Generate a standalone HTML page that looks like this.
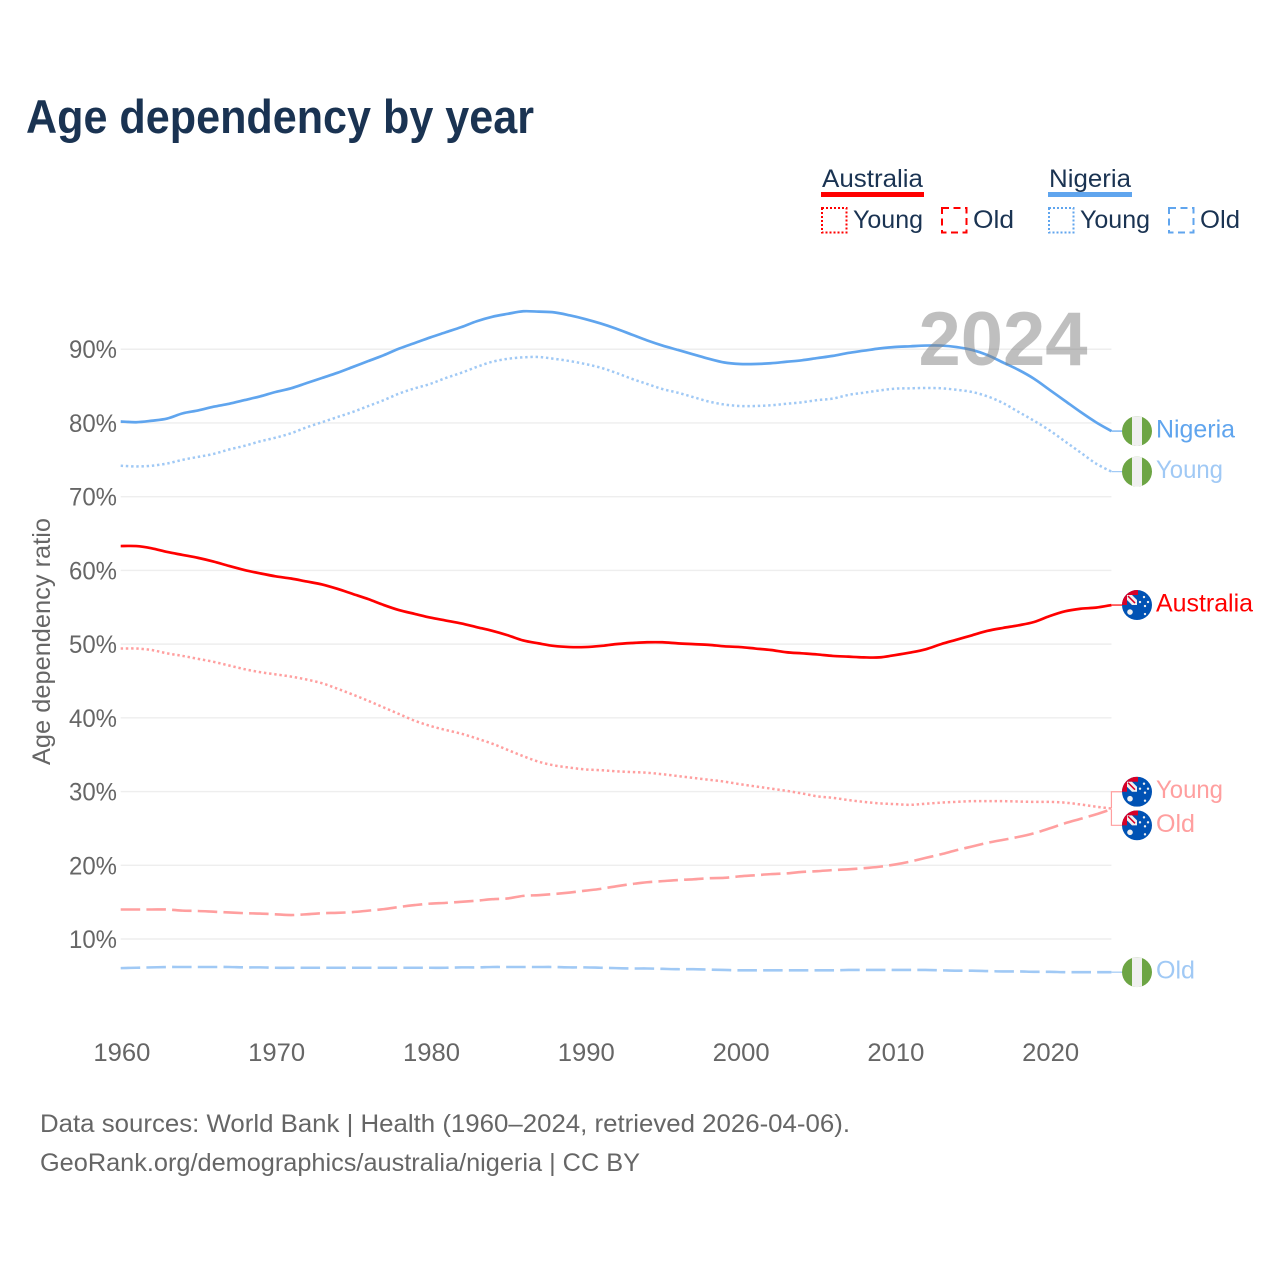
<!DOCTYPE html>
<html lang="en">
<head>
<meta charset="utf-8">
<title>Age dependency by year</title>
<style>
html,body{margin:0;padding:0;background:#fff;}
svg{display:block;}
text{font-family:"Liberation Sans",sans-serif;}
</style>
</head>
<body>
<svg id="chart" xmlns="http://www.w3.org/2000/svg" width="1280" height="1280" viewBox="0 0 1280 1280">
  <defs>
    <clipPath id="flag-clip"><circle cx="0" cy="0" r="15"/></clipPath>
    <g id="flag-ng" clip-path="url(#flag-clip)">
      <rect x="-15" y="-15" width="30" height="30" fill="#6da544"/>
      <rect x="-5" y="-15" width="10" height="30" fill="#f0f0f0"/>
    </g>
    <g id="flag-au" clip-path="url(#flag-clip)">
      <rect x="-15" y="-15" width="30" height="30" fill="#0052b4"/>
      <path d="M-15 -15H1V-10H-10V0H-15Z" fill="#d80027"/>
      <path d="M-10 -10H-5L0 -5V0H-5L-10 -5Z" fill="#f0f0f0"/>
      <path d="M-9 -9L-2 -2" stroke="#d80027" stroke-width="1.5"/>
      <circle cx="-7" cy="7" r="2.8" fill="#f0f0f0"/>
      <circle cx="7" cy="-8" r="1.2" fill="#f0f0f0"/>
      <circle cx="3" cy="-3" r="1.2" fill="#f0f0f0"/>
      <circle cx="11" cy="-3" r="1.2" fill="#f0f0f0"/>
      <circle cx="8" cy="1" r="1.2" fill="#f0f0f0"/>
      <circle cx="8" cy="9" r="1.2" fill="#f0f0f0"/>
    </g>
  </defs>

  <text x="26" y="133" font-size="47" font-weight="700" fill="#1a3352" textLength="508" lengthAdjust="spacingAndGlyphs">Age dependency by year</text>

  <g font-size="25" fill="#1a3352">
    <text x="822" y="187" textLength="101" lengthAdjust="spacingAndGlyphs">Australia</text>
    <rect x="821" y="192" width="103" height="5" fill="#ff0000"/>
    <rect x="822" y="208" width="24.5" height="24.5" fill="none" stroke="#ff0000" stroke-width="2" stroke-dasharray="2 2"/>
    <text x="853" y="228" textLength="70" lengthAdjust="spacingAndGlyphs">Young</text>
    <rect x="942" y="208" width="24.5" height="24.5" fill="none" stroke="#ff0000" stroke-width="2" stroke-dasharray="7 4.5"/>
    <text x="973" y="228" textLength="41" lengthAdjust="spacingAndGlyphs">Old</text>
    <text x="1049" y="187" textLength="82" lengthAdjust="spacingAndGlyphs">Nigeria</text>
    <rect x="1048" y="192" width="84" height="5" fill="#60a5ee"/>
    <rect x="1049" y="208" width="24.5" height="24.5" fill="none" stroke="#60a5ee" stroke-width="2" stroke-dasharray="2 2"/>
    <text x="1080" y="228" textLength="70" lengthAdjust="spacingAndGlyphs">Young</text>
    <rect x="1169" y="208" width="24.5" height="24.5" fill="none" stroke="#60a5ee" stroke-width="2" stroke-dasharray="7 4.5"/>
    <text x="1200" y="228" textLength="40" lengthAdjust="spacingAndGlyphs">Old</text>
  </g>

  <g id="grid"></g>
  <g id="y-ticks"></g>
  <g id="x-ticks"></g>
  <text transform="translate(50,641.5) rotate(-90)" text-anchor="middle" font-size="25" fill="#666666" textLength="247" lengthAdjust="spacingAndGlyphs">Age dependency ratio</text>
  <g id="series"></g>
  <g id="end-labels"></g>

  <text x="918.5" y="365" font-size="76" font-weight="700" fill="#808080" opacity="0.5">2024</text>

  <text x="40" y="1132" font-size="25" fill="#666666" textLength="810" lengthAdjust="spacingAndGlyphs">Data sources: World Bank | Health (1960–2024, retrieved 2026-04-06).</text>
  <text x="40" y="1171" font-size="25" fill="#666666" textLength="600" lengthAdjust="spacingAndGlyphs">GeoRank.org/demographics/australia/nigeria | CC BY</text>
</svg>
<script>
var yearStart = 1960;
var yTickValues = [10, 20, 30, 40, 50, 60, 70, 80, 90];
var yTickLabels = ['10%', '20%', '30%', '40%', '50%', '60%', '70%', '80%', '90%'];
var xTickValues = [1960, 1970, 1980, 1990, 2000, 2010, 2020];
var xTickLabels = ['1960', '1970', '1980', '1990', '2000', '2010', '2020'];

var nigeriaTotal = [
  80.2,80.1,80.3,80.6,81.3,81.7,82.2,82.6,83.1,83.6,
  84.2,84.7,85.4,86.1,86.8,87.6,88.4,89.2,90.1,90.85,
  91.6,92.3,93.0,93.8,94.4,94.8,95.15,95.1,95.0,94.6,
  94.1,93.5,92.8,92.0,91.2,90.5,89.9,89.3,88.7,88.2,
  88.0,88.0,88.1,88.3,88.5,88.8,89.1,89.5,89.8,90.1,
  90.3,90.4,90.5,90.5,90.3,89.9,89.2,88.2,87.2,86.0,
  84.5,83.0,81.5,80.1,78.9
];
var nigeriaYoung = [
  74.2,74.1,74.2,74.5,75.0,75.4,75.8,76.4,76.9,77.5,
  78.0,78.6,79.4,80.1,80.8,81.5,82.3,83.1,84.0,84.7,
  85.3,86.1,86.8,87.6,88.3,88.7,88.9,88.95,88.7,88.4,
  88.0,87.5,86.8,86.0,85.3,84.6,84.1,83.5,82.9,82.5,
  82.3,82.3,82.4,82.6,82.8,83.1,83.3,83.8,84.1,84.4,
  84.65,84.7,84.75,84.7,84.5,84.2,83.6,82.7,81.5,80.3,
  79.0,77.5,76.0,74.5,73.4
];
var nigeriaOld = [
  6.05,6.1,6.15,6.2,6.2,6.2,6.2,6.2,6.15,6.15,
  6.1,6.1,6.1,6.1,6.1,6.1,6.1,6.1,6.1,6.1,
  6.1,6.1,6.15,6.15,6.2,6.2,6.2,6.2,6.2,6.15,
  6.15,6.1,6.05,6.0,6.0,5.95,5.9,5.9,5.85,5.8,
  5.75,5.75,5.75,5.75,5.75,5.75,5.75,5.8,5.8,5.8,
  5.8,5.8,5.8,5.75,5.7,5.7,5.65,5.6,5.6,5.55,
  5.55,5.5,5.5,5.5,5.5
];
var australiaTotal = [
  63.3,63.3,63.0,62.5,62.1,61.7,61.2,60.6,60.05,59.6,
  59.2,58.9,58.5,58.1,57.5,56.8,56.1,55.3,54.6,54.1,
  53.6,53.2,52.8,52.3,51.8,51.2,50.5,50.1,49.75,49.6,
  49.6,49.75,50.0,50.15,50.25,50.25,50.1,50.0,49.9,49.7,
  49.6,49.4,49.2,48.9,48.75,48.6,48.4,48.3,48.2,48.2,
  48.5,48.85,49.3,50.0,50.6,51.2,51.8,52.2,52.55,53.0,
  53.8,54.45,54.8,54.95,55.3
];
var australiaYoung = [
  49.4,49.4,49.2,48.75,48.4,48.0,47.6,47.1,46.6,46.2,
  45.9,45.6,45.2,44.7,43.95,43.15,42.3,41.4,40.5,39.6,
  38.9,38.35,37.85,37.2,36.5,35.65,34.8,34.05,33.55,33.25,
  33.0,32.9,32.75,32.65,32.55,32.35,32.1,31.85,31.6,31.35,
  31.0,30.7,30.4,30.1,29.75,29.35,29.15,28.85,28.6,28.4,
  28.3,28.2,28.35,28.5,28.6,28.7,28.7,28.7,28.65,28.6,
  28.6,28.5,28.25,27.95,27.7
];
var australiaOld = [
  14,14,14,14,13.85,13.8,13.7,13.6,13.5,13.45,
  13.35,13.25,13.35,13.5,13.55,13.65,13.85,14.05,14.35,14.6,
  14.8,14.9,15.05,15.2,15.4,15.5,15.85,15.95,16.1,16.3,
  16.55,16.8,17.15,17.45,17.7,17.85,18.0,18.1,18.25,18.3,
  18.5,18.65,18.8,18.9,19.1,19.2,19.35,19.45,19.6,19.8,
  20.1,20.5,21,21.5,22.05,22.55,23.05,23.45,23.85,24.35,
  25,25.7,26.3,26.9,27.6
];

var NS = 'http://www.w3.org/2000/svg';
function xScale(year) { return 120.7 + (year - 1960) * 15.48; }
function yScale(v) { return 939 - (v - 10) * 7.372; }
function make(tag, attrs, parent) {
  var el = document.createElementNS(NS, tag);
  for (var k in attrs) { el.setAttribute(k, attrs[k]); }
  parent.appendChild(el);
  return el;
}
var gridG = document.getElementById('grid');
var yTicksG = document.getElementById('y-ticks');
var xTicksG = document.getElementById('x-ticks');
var seriesG = document.getElementById('series');
var labelsG = document.getElementById('end-labels');
var xRight = xScale(yearStart + nigeriaTotal.length - 1);

yTickValues.forEach(function (v, i) {
  var line = make('line', {x1: xScale(1960), x2: xRight, y1: yScale(v), y2: yScale(v), stroke: '#eeeeee', 'stroke-width': 1.4}, gridG);
  
  
  var t = make('text', {x: 117, y: yScale(v) + 9, 'text-anchor': 'end', 'font-size': 25, fill: '#666666', textLength: 48, lengthAdjust: 'spacingAndGlyphs'}, yTicksG);
  
  
  t.textContent = yTickLabels[i];
});

xTickValues.forEach(function (yr, i) {
  var t = make('text', {x: xScale(yr) + 1.2, y: 1061, 'text-anchor': 'middle', 'font-size': 25, fill: '#666666', textLength: 57, lengthAdjust: 'spacingAndGlyphs'}, xTicksG);
  
  
  t.textContent = xTickLabels[i];
});

// Catmull-Rom smoothing through the yearly data points
function smoothPath(values) {
  var P = values.map(function (v, i) { return [xScale(yearStart + i), yScale(v)]; });
  var d = 'M' + P[0][0].toFixed(2) + ' ' + P[0][1].toFixed(2);
  for (var i = 0; i < P.length - 1; i++) {
    var p0 = P[Math.max(i - 1, 0)], p1 = P[i], p2 = P[i + 1], p3 = P[Math.min(i + 2, P.length - 1)];
    d += 'C' + (p1[0] + (p2[0] - p0[0]) / 6).toFixed(2) + ' ' + (p1[1] + (p2[1] - p0[1]) / 6).toFixed(2) + ' ' +
         (p2[0] - (p3[0] - p1[0]) / 6).toFixed(2) + ' ' + (p2[1] - (p3[1] - p1[1]) / 6).toFixed(2) + ' ' +
         p2[0].toFixed(2) + ' ' + p2[1].toFixed(2);
  }
  return d;
}
function drawLine(values, color, width, dash, name) {
  var attrs = {d: smoothPath(values), fill: 'none', stroke: color, 'stroke-width': width, 'stroke-linejoin': 'round'};
  if (dash) { attrs['stroke-dasharray'] = dash; }
  var el = make('path', attrs, seriesG);
  
  
}
drawLine(nigeriaOld, '#a0c9f5', 2.6, '19.5 6.2', 'line-nigeria-old');
drawLine(nigeriaYoung, '#a0c9f5', 2.5, '2.4 2.8', 'line-nigeria-young');
drawLine(nigeriaTotal, '#60a5ee', 2.7, null, 'line-nigeria-total');
drawLine(australiaOld, '#ff9f9f', 2.6, '19.5 6.2', 'line-australia-old');
drawLine(australiaYoung, '#ff9f9f', 2.5, '2.4 2.8', 'line-australia-young');
drawLine(australiaTotal, '#ff0000', 2.7, null, 'line-australia-total');

function last(a) { return a[a.length - 1]; }
function endLabel(text, textWidth, labelY, flag, color, name) {
  var u = make('use', {href: flag, x: 1137, y: labelY}, labelsG);
  
  
  var t = make('text', {x: 1156, y: labelY + 6.5, 'font-size': 25, fill: color, textLength: textWidth, lengthAdjust: 'spacingAndGlyphs'}, labelsG);
  
  
  t.textContent = text;
}
function leader(value, labelY, color, name) {
  var p = make('polyline', {points: xRight + ',' + yScale(value) + ' ' + xRight + ',' + labelY + ' 1122,' + labelY, fill: 'none', stroke: color, 'stroke-width': 1.2}, labelsG);
  
  
}
var auMid = yScale(last(australiaYoung));
leader(last(nigeriaTotal), yScale(last(nigeriaTotal)), '#60a5ee', 'nigeria-total');
leader(last(nigeriaYoung), yScale(last(nigeriaYoung)), '#a0c9f5', 'nigeria-young');
leader(last(nigeriaOld), yScale(last(nigeriaOld)), '#a0c9f5', 'nigeria-old');
leader(last(australiaTotal), yScale(last(australiaTotal)), '#ff0000', 'australia-total');
leader(last(australiaYoung), auMid - 16.8, '#ff9f9f', 'australia-young');
leader(last(australiaOld), auMid + 16.8, '#ff9f9f', 'australia-old');
endLabel('Nigeria', 79, yScale(last(nigeriaTotal)), '#flag-ng', '#60a5ee', 'nigeria-total');
endLabel('Young', 67, yScale(last(nigeriaYoung)), '#flag-ng', '#a0c9f5', 'nigeria-young');
endLabel('Australia', 97, yScale(last(australiaTotal)), '#flag-au', '#ff0000', 'australia-total');
endLabel('Young', 67, auMid - 16.8, '#flag-au', '#ff9f9f', 'australia-young');
endLabel('Old', 39, auMid + 16.8, '#flag-au', '#ff9f9f', 'australia-old');
endLabel('Old', 39, yScale(last(nigeriaOld)), '#flag-ng', '#a0c9f5', 'nigeria-old');
</script>
</body>
</html>
